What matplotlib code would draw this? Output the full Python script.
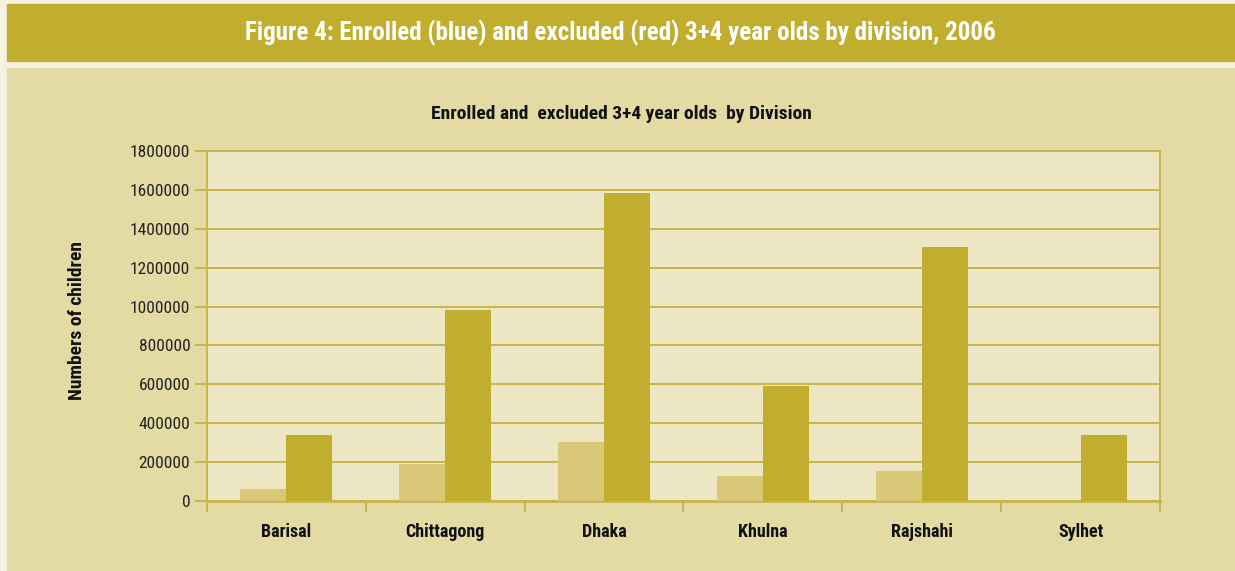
import numpy as np
import matplotlib
matplotlib.use("Agg")
import matplotlib.pyplot as plt
from matplotlib.patches import Rectangle

plt.rcParams['font.family'] = ['Roboto Condensed', 'DejaVu Sans']

# -------------------------------
# data
# -------------------------------
divisions = ['Barisal', 'Chittagong', 'Dhaka', 'Khulna', 'Rajshahi', 'Sylhet']
enrolled = [62000, 192000, 303000, 129000, 154000, 0]
excluded = [339000, 981000, 1582000, 590000, 1305000, 339000]
yticks = list(range(0, 1800001, 200000))

# colours
outer_bg = '#F5F1E3'
gold = '#C2AE2E'
panel_bg = '#E4DAA4'
plot_bg = '#EDE6C3'
light_bar = '#D8C877'
line_col = '#C8B64A'

fig = plt.figure(figsize=(12.35, 5.71), dpi=100)
fig.patch.set_facecolor(outer_bg)

# header band + panel
fig.patches.append(Rectangle((7 / 1235, 1 - 61 / 571), 1, 57 / 571,
                             transform=fig.transFigure, color=gold, zorder=-10))
fig.patches.append(Rectangle((7 / 1235, 0), 1, 1 - 68 / 571,
                             transform=fig.transFigure, color=panel_bg, zorder=-10))
fig.text(620 / 1235, 1 - 33 / 571,
         'Figure 4: Enrolled (blue) and excluded (red) 3+4 year olds by division, 2006',
         ha='center', va='center', color='white', fontsize=18, fontweight='bold')
fig.text(621 / 1235, 1 - 114 / 571, 'Enrolled and  excluded 3+4 year olds  by Division',
         ha='center', va='center', color='#111111', fontsize=14, fontweight='bold')

ax = fig.add_axes([207 / 1235, 70 / 571, 953 / 1235, 350 / 571])
ax.set_facecolor(plot_bg)

x = np.arange(len(divisions))
w = 0.29
ax.bar(x - w / 2, enrolled, w, color=light_bar, zorder=3)
ax.bar(x + w / 2, excluded, w, color=gold, zorder=3)

ax.set_xlim(-0.5, len(divisions) - 0.5)
ax.set_ylim(0, 1800000)
ax.set_yticks(yticks)
ax.set_yticklabels([str(v) for v in yticks], fontsize=12.5, color='#222222')
ax.yaxis.grid(True, color=line_col, linewidth=1.4, zorder=1)
ax.tick_params(axis='y', length=9, width=1.4, color=line_col, pad=3)

# category labels in the middle, ticks on the boundaries
ax.set_xticks(np.arange(-0.5, len(divisions), 1.0))
ax.set_xticklabels([])
ax.set_xticks(x, minor=True)
ax.set_xticklabels(divisions, minor=True, fontsize=13, fontweight='bold', color='#111111')
ax.tick_params(axis='x', which='major', length=8, width=1.4, color=line_col)
ax.tick_params(axis='x', which='minor', length=0, pad=16)

for s in ax.spines.values():
    s.set_color(line_col)
    s.set_linewidth(1.4)
ax.spines['bottom'].set_linewidth(2)

ax.set_ylabel('Numbers of children', fontsize=14, fontweight='bold', color='#111111')
ax.yaxis.set_label_coords(-0.127, 0.517)

plt.savefig('out.png', dpi=100, facecolor=fig.get_facecolor())
